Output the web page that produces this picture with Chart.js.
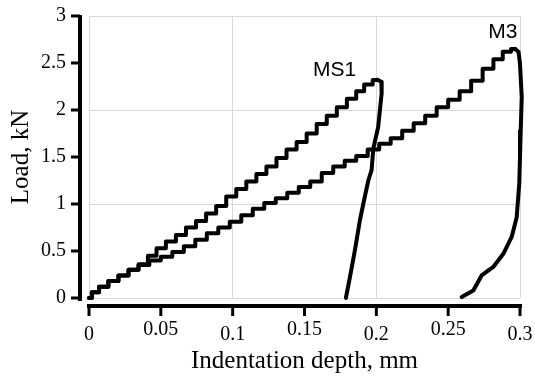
<!DOCTYPE html>
<html>
<head>
<meta charset="utf-8">
<script src="https://cdn.jsdelivr.net/npm/chart.js@4/dist/chart.umd.min.js"></script>
<style>
  html, body { margin: 0; padding: 0; background: #ffffff; }
  #wrap { width: 535px; height: 380px; }
</style>
</head>
<body>
<div id="wrap"><canvas id="c" width="535" height="380"></canvas></div>
<script>
// Indentation depth (mm) and load (kN) for each specimen, loading then unloading branch
const ms1LoadDepth = [0, 0.004, 0.010, 0.017, 0.024, 0.031, 0.038, 0.044, 0.050, 0.057, 0.064, 0.071, 0.078, 0.085, 0.092, 0.099, 0.106, 0.113, 0.120, 0.127, 0.134, 0.141, 0.148, 0.155, 0.162, 0.169, 0.176, 0.183, 0.189, 0.194, 0.201];
const ms1LoadForce = [0, 0.06, 0.12, 0.18, 0.24, 0.30, 0.36, 0.45, 0.53, 0.60, 0.67, 0.75, 0.82, 0.90, 0.98, 1.08, 1.16, 1.24, 1.32, 1.40, 1.49, 1.58, 1.66, 1.75, 1.85, 1.94, 2.03, 2.12, 2.20, 2.27, 2.32];
const ms1UnloadDepth = [0.201, 0.2035, 0.2037, 0.2025, 0.2013, 0.1979, 0.1967, 0.1944, 0.1909, 0.1886, 0.1851, 0.1816, 0.1788];
const ms1UnloadForce = [2.32, 2.30, 2.18, 2.00, 1.82, 1.59, 1.36, 1.25, 1.00, 0.83, 0.51, 0.22, 0.0];

const m3LoadDepth = [0, 0.004, 0.010, 0.017, 0.024, 0.031, 0.038, 0.046, 0.054, 0.062, 0.070, 0.078, 0.086, 0.094, 0.102, 0.110, 0.118, 0.126, 0.134, 0.142, 0.150, 0.158, 0.166, 0.174, 0.182, 0.190, 0.198, 0.206, 0.214, 0.222, 0.230, 0.238, 0.246, 0.254, 0.262, 0.270, 0.278, 0.285, 0.291, 0.2965];
const m3LoadForce = [0, 0.06, 0.12, 0.18, 0.24, 0.30, 0.35, 0.40, 0.44, 0.49, 0.55, 0.62, 0.69, 0.75, 0.81, 0.88, 0.95, 1.01, 1.06, 1.12, 1.18, 1.24, 1.33, 1.40, 1.46, 1.51, 1.58, 1.64, 1.70, 1.78, 1.86, 1.94, 2.03, 2.11, 2.20, 2.31, 2.44, 2.54, 2.62, 2.65];
const m3UnloadDepth = [0.2965, 0.2990, 0.3000, 0.3012, 0.3005, 0.3000, 0.2995, 0.2977, 0.2942, 0.2884, 0.2814, 0.2733, 0.2675, 0.2594];
const m3UnloadForce = [2.65, 2.62, 2.49, 2.14, 1.78, 1.50, 1.22, 0.86, 0.65, 0.47, 0.33, 0.24, 0.08, 0.01];

// Curve annotations
const curveNames = ['MS1', 'M3'];
const curveNameDepth = [0.171, 0.288];
const curveNameForce = [2.42, 2.83];

// Axis ranges and tick steps
const xTickStep = 0.05, xMax = 0.3, xGridStep = 0.1;
const yTickStep = 0.5, yMax = 3, yGridStep = 1;

const toPoints = (xs, ys) => xs.map((v, i) => ({ x: v, y: ys[i] }));

const serif = "'Liberation Serif', 'Times New Roman', serif";
const sans = "'Liberation Sans', Arial, sans-serif";

const onStep = (v, step) => Math.abs(v / step - Math.round(v / step)) < 1e-6;

function lineSet(points, stepped) {
  return {
    data: points,
    showLine: true,
    stepped: stepped,
    borderColor: '#000000',
    borderWidth: 4,
    borderCapStyle: 'round',
    borderJoinStyle: 'round',
    pointRadius: 0,
    fill: false,
    clip: false
  };
}

// No extra room around the plot for overhanging end labels
function noScalePadding(s) {
  s.paddingTop = 0; s.paddingBottom = 0; s.paddingLeft = 0; s.paddingRight = 0;
}

// Offset black axes with outward tick marks, x tick labels, curve names
const offsetAxes = {
  id: 'offsetAxes',
  afterDraw(chart) {
    const ctx = chart.ctx;
    const area = chart.chartArea;
    const xs = chart.scales.x, ys = chart.scales.y;
    ctx.save();
    ctx.strokeStyle = '#000000';
    ctx.lineCap = 'butt';

    const ax = area.left - 9;
    ctx.lineWidth = 4;
    ctx.beginPath();
    ctx.moveTo(ax, ys.getPixelForValue(yMax) - 1);
    ctx.lineTo(ax, ys.getPixelForValue(0) + 3);
    ctx.stroke();
    ctx.lineWidth = 3;
    ys.ticks.forEach(t => {
      const p = ys.getPixelForValue(t.value);
      ctx.beginPath();
      ctx.moveTo(ax - 9, p);
      ctx.lineTo(ax, p);
      ctx.stroke();
    });

    const ay = area.bottom + 8;
    ctx.lineWidth = 4;
    ctx.beginPath();
    ctx.moveTo(xs.getPixelForValue(0) - 2, ay);
    ctx.lineTo(xs.getPixelForValue(xMax) + 2, ay);
    ctx.stroke();
    ctx.lineWidth = 3;
    xs.ticks.forEach(t => {
      const p = xs.getPixelForValue(t.value);
      ctx.beginPath();
      ctx.moveTo(p, ay);
      ctx.lineTo(p, ay + 10);
      ctx.stroke();
    });

    ctx.fillStyle = '#000000';
    ctx.textAlign = 'center';
    ctx.textBaseline = 'middle';
    ctx.font = '20px ' + serif;
    xs.ticks.forEach((t, i) => {
      const label = String(Math.round(t.value * 100) / 100);
      ctx.fillText(label, xs.getPixelForValue(t.value), ay + (i % 2 === 0 ? 29 : 24));
    });

    ctx.font = '21px ' + sans;
    curveNames.forEach((name, i) => {
      ctx.fillText(name, xs.getPixelForValue(curveNameDepth[i]), ys.getPixelForValue(curveNameForce[i]));
    });
    ctx.restore();
  }
};

new Chart(document.getElementById('c'), {
  type: 'scatter',
  data: {
    datasets: [
      lineSet(toPoints(ms1LoadDepth, ms1LoadForce), 'middle'),
      lineSet(toPoints(ms1UnloadDepth, ms1UnloadForce), false),
      lineSet(toPoints(m3LoadDepth, m3LoadForce), 'middle'),
      lineSet(toPoints(m3UnloadDepth, m3UnloadForce), false)
    ]
  },
  options: {
    responsive: false,
    animation: false,
    layout: { padding: { left: 0, top: 16, right: 15, bottom: 0 } },
    plugins: { legend: { display: false }, tooltip: { enabled: false } },
    scales: {
      x: {
        type: 'linear',
        min: 0,
        max: xMax,
        afterFit(s) { s.height = 82; noScalePadding(s); },
        ticks: {
          stepSize: xTickStep,
          display: false,
          maxRotation: 0
        },
        grid: {
          drawTicks: false,
          lineWidth: 1,
          color: c => (c.tick && onStep(c.tick.value, xGridStep)) ? '#d9d9d9' : 'rgba(0,0,0,0)'
        },
        border: { display: false },
        title: {
          display: true,
          text: 'Indentation depth, mm',
          color: '#000000',
          font: { family: serif, size: 25, lineHeight: 1.2 },
          padding: { top: 0, bottom: 4 }
        }
      },
      y: {
        type: 'linear',
        min: 0,
        max: yMax,
        afterFit(s) { s.width = 89; noScalePadding(s); },
        ticks: {
          stepSize: yTickStep,
          padding: 23,
          color: '#000000',
          font: { family: serif, size: 20 },
          callback: v => String(Math.round(v * 10) / 10)
        },
        grid: {
          drawTicks: false,
          lineWidth: 1,
          color: c => (c.tick && onStep(c.tick.value, yGridStep)) ? '#d9d9d9' : 'rgba(0,0,0,0)'
        },
        border: { display: false },
        title: {
          display: true,
          text: 'Load, kN',
          color: '#000000',
          font: { family: serif, size: 25, lineHeight: 1.2 },
          padding: { top: 6, bottom: 0 }
        }
      }
    }
  },
  plugins: [offsetAxes]
});
</script>
</body>
</html>
